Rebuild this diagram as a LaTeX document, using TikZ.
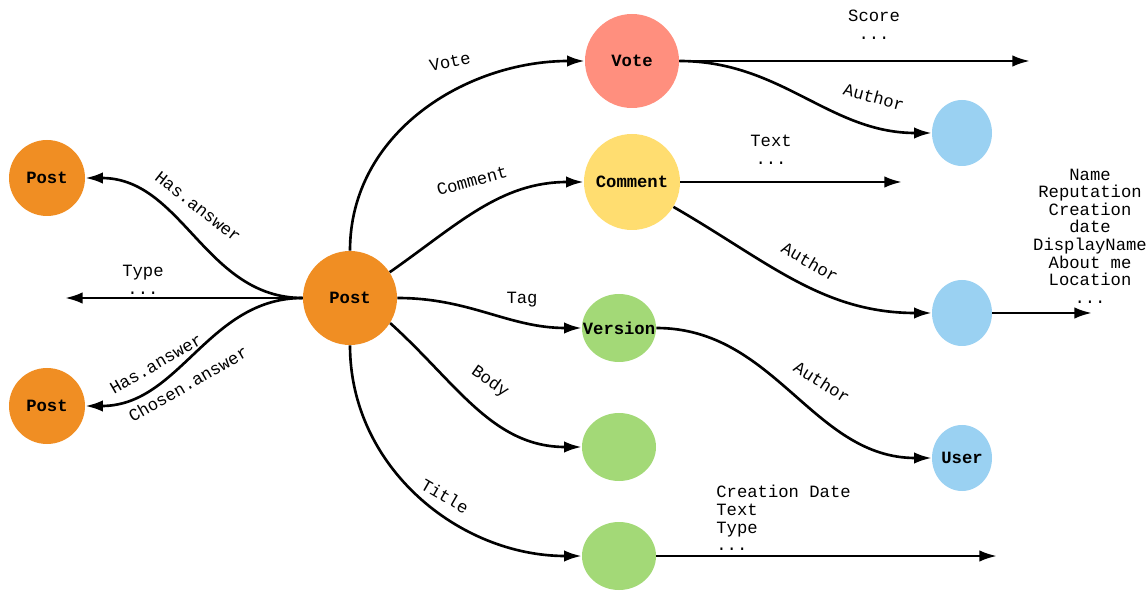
\documentclass[tikz,border=0pt]{standalone}
\usepackage{fontspec}
\setmainfont{Liberation Mono}
\usepackage{xcolor}
\usetikzlibrary{arrows.meta,shapes.geometric}

\definecolor{postcol}{HTML}{F08E23}
\definecolor{votecol}{HTML}{FF8F7E}
\definecolor{commentcol}{HTML}{FFDD70}
\definecolor{versioncol}{HTML}{A3D977}
\definecolor{usercol}{HTML}{9AD1F2}

\begin{document}
\begin{tikzpicture}[>={Latex[length=10pt,width=6.5pt]},line join=bevel,
  every node/.style={font=\fontsize{9.8}{10}\selectfont},
  ent/.style={circle,inner sep=0pt,font=\fontsize{9.8}{10}\selectfont\bfseries},
  attr/.style={ellipse,inner sep=0pt,minimum width=1.48cm,minimum height=1.36cm,fill=versioncol},
  who/.style={ellipse,inner sep=0pt,minimum width=1.2cm,minimum height=1.32cm,fill=usercol,
    font=\fontsize{9.8}{10}\selectfont\bfseries},
  link/.style={->,line width=1.5pt}]

\useasboundingbox (0,0) rectangle (22.94,11.8);

% entities
\node[ent,fill=postcol,minimum size=1.88cm] (post) at (7.00,5.84) {Post};
\node[ent,fill=postcol,minimum size=1.52cm] (ans) at (0.94,8.24) {Post};
\node[ent,fill=postcol,minimum size=1.52cm] (chosen) at (0.94,3.68) {Post};
\node[ent,fill=votecol,minimum size=1.88cm] (vote) at (12.64,10.58) {Vote};
\node[ent,fill=commentcol,minimum size=1.92cm] (comment) at (12.64,8.16) {Comment};
\node[attr,label={[font=\fontsize{9.8}{10}\selectfont\bfseries]center:Version}] (version) at (12.38,5.24) {};
\node[attr] (body) at (12.38,2.86) {};
\node[attr] (title) at (12.38,0.68) {};
\node[who] (vauthor) at (19.24,9.14) {};
\node[who] (cauthor) at (19.24,5.54) {};
\node[who] (user) at (19.24,2.64) {User};

% open ends
\coordinate (typeend) at (1.30,5.84);
\coordinate (scoreend) at (20.6,10.58);
\coordinate (textend) at (18.04,8.16);
\coordinate (userend) at (21.84,5.54);
\coordinate (titleend) at (19.94,0.68);

% links out of the post
\draw[link] (post.west) to[out=180,in=0] (ans.east);
\draw[link] (post.west) to[out=180,in=0] (chosen.east);
\draw[link] (post.west) -- (typeend);
\draw[link] (post.north) to[out=90,in=180] (vote.west);
\draw[link] (post.33) to[out=35,in=180] (comment.west);
\draw[link] (post.east) to[out=0,in=180] (version.west);
\draw[link] (post.-32) to[out=-42,in=180] (body.west);
\draw[link] (post.south) to[out=-90,in=180] (title.west);

% second level
\draw[link] (vote.east) -- (scoreend);
\draw[link] (vote.east) to[out=0,in=180] (vauthor.west);
\draw[link] (comment.east) -- (textend);
\draw[link] (comment.-31) to[out=-30,in=180] (cauthor.west);
\draw[link] (cauthor.east) -- (userend);
\draw[link] (version.east) to[out=0,in=180] (user.west);
\draw[link] (title.east) -- (titleend);

% labels
\node[rotate=-38] at (3.96,7.66) {Has.answer};
\node[rotate=30] at (3.12,4.52) {Has.answer};
\node[rotate=30] at (3.76,4.12) {Chosen.answer};
\node[align=center] at (2.86,6.2) {Type\\...};
\node[rotate=12] at (9.0,10.56) {Vote};
\node[rotate=15] at (9.44,8.18) {Comment};
\node at (10.44,5.80) {Tag};
\node[rotate=-35] at (9.8,4.16) {Body};
\node[rotate=-30] at (8.9,1.88) {Title};
\node[align=center] at (17.48,11.30) {Score\\...};
\node[rotate=-15] at (17.48,9.86) {Author};
\node[align=center] at (15.42,8.80) {Text\\...};
\node[rotate=-30] at (16.2,6.56) {Author};
\node[rotate=-32] at (16.44,4.16) {Author};
\node[align=center] at (21.8,7.08) {Name\\Reputation\\Creation\\date\\DisplayName\\About me\\Location\\...};
\node[align=left,anchor=west,inner sep=0pt] at (14.32,1.44) {Creation Date\\Text\\Type\\...};

\end{tikzpicture}
\end{document}
